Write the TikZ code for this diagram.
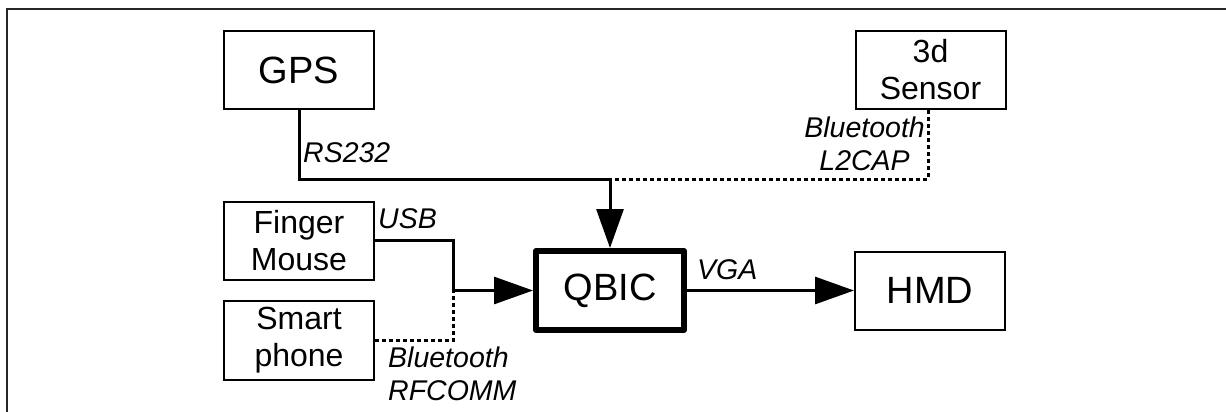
\documentclass[tikz,border=0pt]{standalone}
\usepackage{fontspec}
\setmainfont{Liberation Sans}
\usetikzlibrary{arrows.meta}
\tikzset{
  blk/.style={draw, line width=2pt, rectangle, inner sep=0pt, minimum width=150pt, minimum height=78pt, align=center},
  bigtxt/.style={font=\fontsize{38}{44}\selectfont},
  twotxt/.style={font=\fontsize{32}{37}\selectfont},
  qbicbox/.style={draw, line width=6pt, line join=round, rectangle, inner sep=0pt, minimum width=148pt, minimum height=79pt, font=\fontsize{38}{44}\selectfont},
  wire/.style={line width=3pt},
  wless/.style={line width=3pt, dash pattern=on 4pt off 3pt},
  arr/.style={-{Triangle[length=39pt,width=27pt]}},
  lbl/.style={font=\fontsize{28.5}{32.5}\selectfont\itshape, inner sep=0pt},
  frame/.style={line width=1.5pt, black!85}
}
\begin{document}
\begin{tikzpicture}[x=1pt,y=-1pt]
\useasboundingbox (0,0) rectangle (1226,412);
\draw[frame] (7,412) -- (7,9) -- (1226,9);

\node[blk,bigtxt] (gps) at (299,70) {GPS};
\node[blk,twotxt] (sensor) at (930.5,70) {3d\\Sensor};
\node[blk,twotxt] (finger) at (299,240.5) {Finger\\Mouse};
\node[blk,twotxt,minimum height=79pt] (smart) at (299,340.5) {Smart\\phone};
\node[qbicbox] (qbic) at (610,290.5) {QBIC};
\node[blk,bigtxt] (hmd) at (930,290.5) {HMD};

\coordinate (j) at (610,179);
\coordinate (sx) at (928,110);
\coordinate (k) at (453,290.5);

\draw[wire] (gps.south) |- (j);
\draw[wless] (sensor.south -| sx) |- (j);
\draw[wire,arr] (j) -- (qbic.north);

\draw[wire] (finger.east) -| (k);
\draw[wless] (smart.east) -| (k);
\draw[wire,arr] (k) -- (qbic.west);

\draw[wire,arr] (qbic.east) -- (hmd.west);

\node[lbl,anchor=base west] (rs) at (303,162) {RS232};
\node[lbl,anchor=base west] (usb) at (378,228) {USB};
\node[lbl,anchor=base west] (vga) at (697,279) {VGA};
\node[lbl,anchor=north east,align=center] (l2) at (925,117) {Bluetooth\\L2CAP};
\node[lbl,anchor=north west,align=left] (rf) at (388,347) {Bluetooth\\RFCOMM};
\end{tikzpicture}
\end{document}
